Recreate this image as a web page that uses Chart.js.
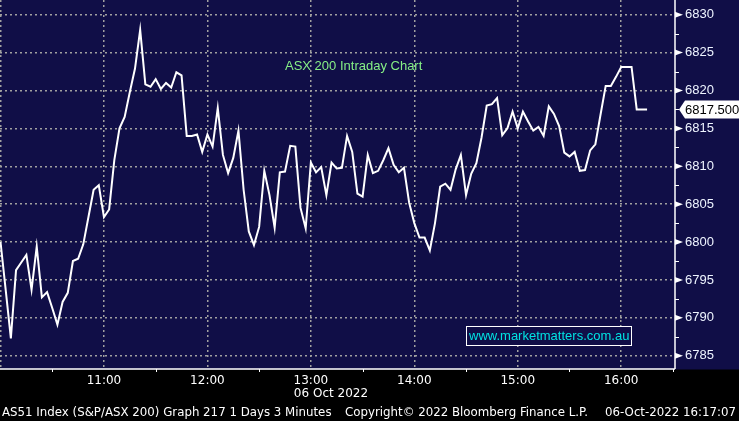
<!DOCTYPE html>
<html>
<head>
<meta charset="utf-8">
<title>ASX 200 Intraday Chart</title>
<script src="https://cdn.jsdelivr.net/npm/chart.js@4.4.0/dist/chart.umd.min.js"></script>
<style>
  html, body { margin: 0; padding: 0; background: #000; }
  canvas { display: block; }
</style>
</head>
<body>
<canvas id="chart" width="739" height="421"></canvas>
<script>
// 3-minute closes of AS51 Index, 06 Oct 2022, first bar at 10:00
const barMinutes = 3;
const closes = [
  6800.0, 6793.7, 6787.3, 6796.3, 6797.3, 6798.3, 6793.7, 6799.4, 6792.7, 6793.4,
  6791.3, 6789.1, 6792.1, 6793.3, 6797.5, 6797.8, 6799.7, 6803.3, 6806.9, 6807.5,
  6803.3, 6804.3, 6810.8, 6815.0, 6816.5, 6819.8, 6822.9, 6828.0, 6820.8, 6820.5,
  6821.5, 6820.2, 6821.0, 6820.4, 6822.4, 6822.0, 6814.0, 6814.0, 6814.2, 6811.9,
  6814.2, 6812.6, 6817.7, 6811.5, 6809.1, 6811.1, 6814.7, 6806.9, 6801.4, 6799.6,
  6802.0, 6809.4, 6806.2, 6801.9, 6809.2, 6809.3, 6812.7, 6812.6, 6804.5, 6801.8,
  6810.5, 6809.2, 6809.9, 6806.2, 6810.5, 6809.7, 6809.8, 6814.0, 6811.9, 6806.4,
  6806.0, 6811.5, 6809.1, 6809.4, 6810.8, 6812.4, 6810.2, 6809.2, 6809.8, 6805.2,
  6802.5, 6800.6, 6800.6, 6798.9, 6802.5, 6807.3, 6807.7, 6806.9, 6809.6, 6811.5,
  6806.2, 6809.0, 6810.4, 6813.8, 6818.0, 6818.2, 6819.0, 6814.1, 6815.0, 6817.2,
  6815.0, 6817.2, 6815.9, 6814.7, 6815.2, 6814.0, 6817.9, 6816.9, 6815.3, 6811.8,
  6811.3, 6811.9, 6809.4, 6809.5, 6812.1, 6812.9, 6816.8, 6820.6, 6820.6, 6821.8,
  6823.1, 6823.1, 6823.1, 6817.5, 6817.5, 6817.5
];

// x axis: minutes after 10:00
const hourTicks = [0, 60, 120, 180, 240, 300, 360];
const hourLabels = ['', '11:00', '12:00', '13:00', '14:00', '15:00', '16:00'];
const halfHourTicks = [30, 90, 150, 210, 270, 330, 390];
const dateLabel = '06 Oct 2022';

// y axis
const priceTicks = [6785, 6790, 6795, 6800, 6805, 6810, 6815, 6820, 6825, 6830];
const minorPriceTicks = [6787.5, 6792.5, 6797.5, 6802.5, 6807.5, 6812.5, 6817.5, 6822.5, 6827.5];
const lastPrice = 6817.5;

const titleText = 'ASX 200 Intraday Chart';
const siteText = 'www.marketmatters.com.au';
const footerLeft = 'AS51 Index (S&P/ASX 200) Graph 217 1 Days 3 Minutes';
const footerMid = 'Copyright\u00A9 2022 Bloomberg Finance L.P.';
const footerRight = '06-Oct-2022 16:17:07';

const NAVY = '#100e47';
const GRID = '#a0a0a0';

const points = closes.map((v, i) => ({ x: i * barMinutes, y: v }));

// backdrop: navy plot + axis area, black strip at the bottom
const backdrop = {
  id: 'backdrop',
  beforeDraw(chart) {
    const ctx = chart.ctx;
    const area = chart.chartArea;
    ctx.save();
    ctx.fillStyle = '#000';
    ctx.fillRect(0, 0, chart.width, chart.height);
    ctx.fillStyle = NAVY;
    ctx.fillRect(0, 0, chart.width, area.bottom + 0.5);
    ctx.restore();
  }
};

// axis lines, tick marks, texts and the price flag
const decorations = {
  id: 'decorations',
  afterDraw(chart) {
    const ctx = chart.ctx;
    const area = chart.chartArea;
    const xs = chart.scales.x;
    const ys = chart.scales.y;
    ctx.save();

    // axis lines
    ctx.strokeStyle = '#fff';
    ctx.lineWidth = 1.5;
    ctx.beginPath();
    ctx.moveTo(0, area.bottom);
    ctx.lineTo(area.right, area.bottom);
    ctx.moveTo(area.right, 0);
    ctx.lineTo(area.right, area.bottom);
    ctx.stroke();

    // half-hour ticks under the time axis
    ctx.lineWidth = 1;
    ctx.beginPath();
    halfHourTicks.forEach(m => {
      const px = Math.round(xs.getPixelForValue(m)) + 0.5;
      if (px < area.right) {
        ctx.moveTo(px, area.bottom);
        ctx.lineTo(px, area.bottom + 3);
      }
    });
    // minor price ticks
    minorPriceTicks.forEach(v => {
      const py = Math.round(ys.getPixelForValue(v)) + 0.5;
      ctx.moveTo(area.right, py);
      ctx.lineTo(area.right + 4, py);
    });
    ctx.stroke();

    // arrow heads at major price ticks
    ctx.fillStyle = '#fff';
    priceTicks.forEach(v => {
      const py = ys.getPixelForValue(v);
      ctx.beginPath();
      ctx.moveTo(area.right, py - 3);
      ctx.lineTo(area.right + 8, py);
      ctx.lineTo(area.right, py + 3);
      ctx.closePath();
      ctx.fill();
    });

    // date under 13:00
    ctx.fillStyle = '#fff';
    ctx.font = '12px "DejaVu Sans"';
    ctx.textBaseline = 'middle';
    ctx.textAlign = 'left';
    ctx.fillText(dateLabel, xs.getPixelForValue(180) - 17, 394);

    // title
    ctx.fillStyle = '#86f086';
    ctx.font = '13px "Liberation Sans"';
    ctx.fillText(titleText, 285, 66);

    // website box (covers the grid behind it)
    ctx.fillStyle = NAVY;
    ctx.fillRect(466.5, 326.5, 165, 19);
    ctx.strokeStyle = '#fff';
    ctx.lineWidth = 1;
    ctx.strokeRect(466.5, 326.5, 165, 19);
    ctx.fillStyle = '#00e2e2';
    ctx.fillText(siteText, 469, 336.5);

    // price flag
    const fy = ys.getPixelForValue(lastPrice);
    const fx = area.right + 4;
    ctx.fillStyle = '#fff';
    ctx.beginPath();
    ctx.moveTo(fx, fy);
    ctx.lineTo(fx + 6, fy - 9);
    ctx.lineTo(chart.width + 2, fy - 9);
    ctx.lineTo(chart.width + 2, fy + 9);
    ctx.lineTo(fx + 6, fy + 9);
    ctx.closePath();
    ctx.fill();
    ctx.fillStyle = '#000';
    ctx.font = '13px "Liberation Sans"';
    ctx.fillText(lastPrice.toFixed(3), fx + 6, fy + 0.5);

    // footer
    ctx.fillStyle = '#fff';
    ctx.font = '11.8px "DejaVu Sans"';
    ctx.fillText(footerLeft, 2, 413);
    ctx.fillText(footerMid, 345, 413);
    ctx.textAlign = 'right';
    ctx.fillText(footerRight, 736, 413);

    ctx.restore();
  }
};

new Chart(document.getElementById('chart'), {
  type: 'line',
  data: {
    datasets: [{
      data: points,
      borderColor: '#ffffff',
      borderWidth: 2,
      pointRadius: 0,
      tension: 0,
      fill: false
    }]
  },
  options: {
    responsive: false,
    animation: false,
    devicePixelRatio: 1,
    layout: { padding: 0 },
    plugins: {
      legend: { display: false },
      tooltip: { enabled: false },
      title: { display: false }
    },
    scales: {
      x: {
        type: 'linear',
        position: 'bottom',
        min: -0.3,
        max: 391.2,
        afterBuildTicks: s => { s.ticks = hourTicks.map(v => ({ value: v })); },
        afterFit: s => {
          s.height = 52;
          s.paddingLeft = 0;
          s.paddingRight = 0;
        },
        ticks: {
          autoSkip: false,
          maxRotation: 0,
          padding: 5,
          color: '#ffffff',
          font: { family: 'DejaVu Sans', size: 12 },
          callback: (v, i) => hourLabels[i]
        },
        grid: { color: GRID, lineWidth: 1.5, drawTicks: false },
        border: { display: false, dash: [2, 3] }
      },
      y: {
        position: 'right',
        min: 6783.25,
        max: 6831.94,
        afterBuildTicks: s => { s.ticks = priceTicks.map(v => ({ value: v })); },
        afterFit: s => {
          s.width = 64;
          s.paddingTop = 0;
          s.paddingBottom = 0;
        },
        ticks: {
          autoSkip: false,
          padding: 10,
          color: '#eef4ff',
          font: { family: 'Liberation Sans', size: 13 },
          callback: v => String(v)
        },
        grid: { color: GRID, lineWidth: 1.5, drawTicks: false },
        border: { display: false, dash: [2, 3] }
      }
    }
  },
  plugins: [backdrop, decorations]
});
</script>
</body>
</html>
